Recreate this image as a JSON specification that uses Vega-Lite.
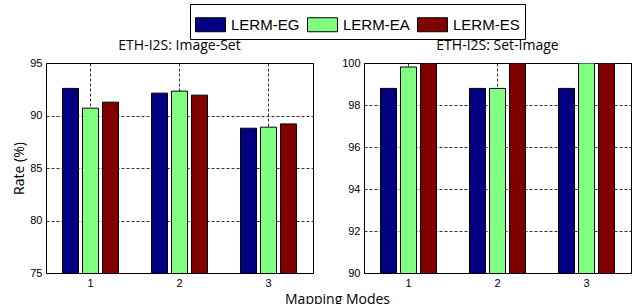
{
  "$schema": "https://vega.github.io/schema/vega-lite/v6.json",
  "padding": {"left": 12, "top": 3, "right": 0, "bottom": 0},
  "bounds": "flush",
  "spacing": 51,
  "config": {
    "view": {"stroke": "#000", "strokeWidth": 1},
    "axis": {
      "domain": false,
      "ticks": false,
      "labelFont": "Liberation Sans",
      "labelFontSize": 11,
      "labelColor": "#000",
      "labelPadding": 4,
      "gridColor": "#000",
      "gridDash": [3, 2],
      "gridOpacity": 0.8,
      "titleFont": "Open Sans",
      "titleFontSize": 14,
      "titleFontWeight": "normal",
      "titleColor": "#000"
    },
    "title": {"font": "Open Sans", "fontSize": 14, "fontWeight": "normal", "color": "#000"},
    "legend": {
      "symbolType": "M-1,-0.467H1V0.467H-1Z",
      "symbolSize": 900,
      "symbolStrokeColor": "#000",
      "symbolStrokeWidth": 1,
      "symbolOpacity": 1,
      "labelFont": "Liberation Sans",
      "labelFontSize": 15,
      "labelColor": "#000",
      "labelOffset": 5,
      "columnPadding": 5,
      "padding": 5,
      "strokeColor": "#000",
      "fillColor": "#fff"
    }
  },
  "hconcat": [
    {
      "width": 267,
      "height": 210,
      "title": {"text": "ETH-I2S: Image-Set", "baseline": "alphabetic", "offset": 2, "dy": 9},
      "data": {"values": [
        {"mode": "1", "method": "LERM-EG", "rate": 92.58},
        {"mode": "1", "method": "LERM-EA", "rate": 90.7},
        {"mode": "1", "method": "LERM-ES", "rate": 91.27},
        {"mode": "2", "method": "LERM-EG", "rate": 92.13},
        {"mode": "2", "method": "LERM-EA", "rate": 92.32},
        {"mode": "2", "method": "LERM-ES", "rate": 91.94},
        {"mode": "3", "method": "LERM-EG", "rate": 88.79},
        {"mode": "3", "method": "LERM-EA", "rate": 88.89},
        {"mode": "3", "method": "LERM-ES", "rate": 89.2}
      ]},
      "mark": {"type": "bar", "clip": true, "stroke": "#000", "strokeWidth": 1},
      "encoding": {
        "x": {"field": "mode", "type": "ordinal", "scale": {"paddingInner": 0, "paddingOuter": 0},
          "axis": {"labelAngle": 0, "grid": true, "title": "Mapping Modes", "titleX": 291, "titleY": 30, "titleBaseline": "alphabetic", "titleAnchor": "middle"}},
        "xOffset": {"field": "method", "sort": ["LERM-EG", "LERM-EA", "LERM-ES"], "scale": {"paddingInner": 0.2, "paddingOuter": 0.825}},
        "y": {"field": "rate", "type": "quantitative", "scale": {"domain": [75, 95], "zero": false, "nice": false},
          "axis": {"values": [75, 80, 85, 90, 95], "title": "Rate (%)", "titlePadding": 3}},
        "color": {"field": "method", "sort": ["LERM-EG", "LERM-EA", "LERM-ES"],
          "scale": {"range": ["#000080", "#80FF80", "#800000"]},
          "legend": {"orient": "none", "legendX": 144, "legendY": -59, "direction": "horizontal", "columns": 3, "title": null}}
      }
    },
    {
      "width": 267,
      "height": 210,
      "title": {"text": "ETH-I2S: Set-Image", "baseline": "alphabetic", "offset": 2, "dy": 9},
      "data": {"values": [
        {"mode": "1", "method": "LERM-EG", "rate": 98.79},
        {"mode": "1", "method": "LERM-EA", "rate": 99.81},
        {"mode": "1", "method": "LERM-ES", "rate": 100},
        {"mode": "2", "method": "LERM-EG", "rate": 98.79},
        {"mode": "2", "method": "LERM-EA", "rate": 98.79},
        {"mode": "2", "method": "LERM-ES", "rate": 100},
        {"mode": "3", "method": "LERM-EG", "rate": 98.79},
        {"mode": "3", "method": "LERM-EA", "rate": 100},
        {"mode": "3", "method": "LERM-ES", "rate": 100}
      ]},
      "mark": {"type": "bar", "clip": true, "stroke": "#000", "strokeWidth": 1},
      "encoding": {
        "x": {"field": "mode", "type": "ordinal", "scale": {"paddingInner": 0, "paddingOuter": 0},
          "axis": {"labelAngle": 0, "grid": true, "title": null}},
        "xOffset": {"field": "method", "sort": ["LERM-EG", "LERM-EA", "LERM-ES"], "scale": {"paddingInner": 0.2, "paddingOuter": 0.825}},
        "y": {"field": "rate", "type": "quantitative", "scale": {"domain": [90, 100], "zero": false, "nice": false},
          "axis": {"values": [90, 92, 94, 96, 98, 100], "title": null}},
        "color": {"field": "method", "sort": ["LERM-EG", "LERM-EA", "LERM-ES"],
          "scale": {"range": ["#000080", "#80FF80", "#800000"]},
          "legend": {"orient": "none", "legendX": 144, "legendY": -59, "direction": "horizontal", "columns": 3, "title": null}}
      }
    }
  ]
}
